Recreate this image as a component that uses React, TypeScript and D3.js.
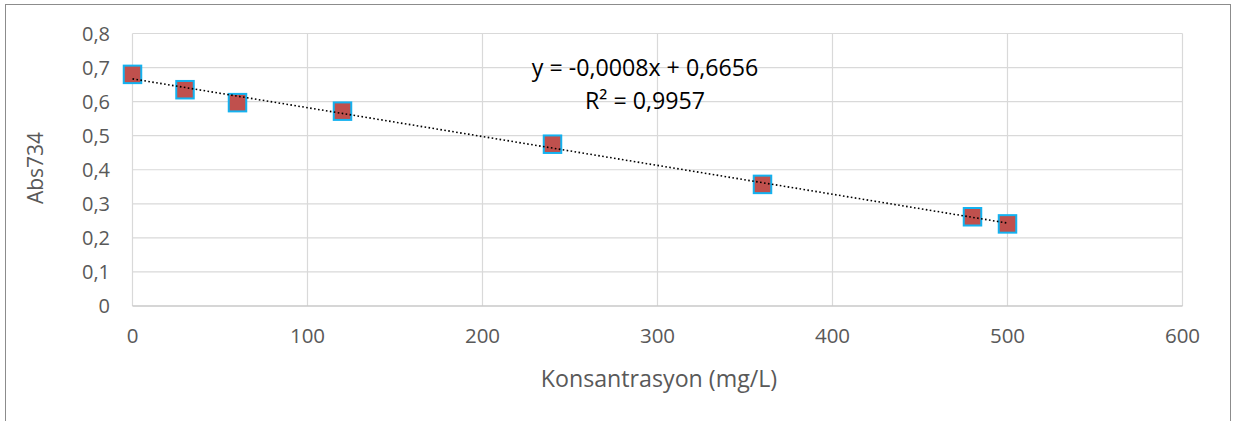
import React from "react";
import * as d3 from "d3";

const concentrations = [0, 30, 60, 120, 240, 360, 480, 500];
const absorbance = [0.68, 0.635, 0.597, 0.572, 0.475, 0.357, 0.262, 0.241];
const xTicks = [0, 100, 200, 300, 400, 500, 600];
const yTicks = [0, 0.1, 0.2, 0.3, 0.4, 0.5, 0.6, 0.7, 0.8];
const equationLines = ["y = -0,0008x + 0,6656", "R² = 0,9957"];
const xTitle = "Konsantrasyon (mg/L)";
const yTitle = "Abs734";

export default function App() {
  const W = 1248, H = 421;
  const left = 132.5, right = 1182.5, top = 33.5, bottom = 306;
  const x = d3.scaleLinear().domain([0, 600]).range([left, right]);
  const y = d3.scaleLinear().domain([0, 0.8]).range([bottom, top]);

  // linear regression
  const n = concentrations.length;
  const mx = d3.mean(concentrations)!;
  const my = d3.mean(absorbance)!;
  let sxy = 0, sxx = 0;
  for (let i = 0; i < n; i++) {
    sxy += (concentrations[i] - mx) * (absorbance[i] - my);
    sxx += (concentrations[i] - mx) ** 2;
  }
  const slope = sxy / sxx;
  const intercept = my - slope * mx;
  const xMin = d3.min(concentrations)!, xMax = d3.max(concentrations)!;
  const line = d3.line<number>().x((d) => x(d)).y((d) => y(intercept + slope * d));

  const fmt = (v: number) => (v === 0 ? "0" : d3.format(".1f")(v).replace(".", ","));
  const font = "'Open Sans', sans-serif";
  const ms = 17.5;

  return (
    <svg width={W} height={H} style={{ position: "absolute", left: 0, top: 0 }} fontFamily={font}>
      <rect x={0} y={0} width={W} height={H} fill="#fff" />
      <rect x={5.5} y={4.5} width={1225} height={430} fill="#fff" stroke="#8c8c8c" strokeWidth={1} />
      {yTicks.filter((t) => t > 0).map((t) => (
        <line key={"h" + t} x1={left} x2={right} y1={y(t)} y2={y(t)} stroke="#d9d9d9" strokeWidth={1.2} />
      ))}
      {xTicks.map((t) => (
        <line key={"v" + t} x1={x(t)} x2={x(t)} y1={top} y2={bottom} stroke="#d9d9d9" strokeWidth={1.2} />
      ))}
      <line x1={left} x2={right} y1={bottom} y2={bottom} stroke="#c8c8c8" strokeWidth={1.4} />
      {yTicks.map((t) => (
        <text key={"yt" + t} x={110} y={y(t)} dy="0.35em" textAnchor="end" fontSize={20} fill="#595959">
          {fmt(t)}
        </text>
      ))}
      {xTicks.map((t) => (
        <text key={"xt" + t} x={x(t)} y={336} dy="0.35em" textAnchor="middle" fontSize={20.5} fill="#595959">
          {t}
        </text>
      ))}
      <text x={659} y={379} dy="0.35em" textAnchor="middle" fontSize={23.2} fill="#595959">
        {xTitle}
      </text>
      <text transform={`translate(36,168) rotate(-90)`} dy="0.35em" textAnchor="middle" fontSize={21} fill="#595959">
        {yTitle}
      </text>
      {concentrations.map((c, i) => (
        <rect key={"m" + i} x={x(c) - ms / 2} y={y(absorbance[i]) - ms / 2} width={ms} height={ms}
          fill="#c0504d" stroke="#14b2f0" strokeWidth={2} />
      ))}
      <path d={line([xMin, xMax]) || ""} fill="none" stroke="#000" strokeWidth={1.6} strokeDasharray="1.6 2.4" />
      {equationLines.map((s, i) => (
        <text key={"eq" + i} x={645} y={68 + i * 33} dy="0.35em" textAnchor="middle" fontSize={23.2} fill="#000">
          {s}
        </text>
      ))}
    </svg>
  );
}
